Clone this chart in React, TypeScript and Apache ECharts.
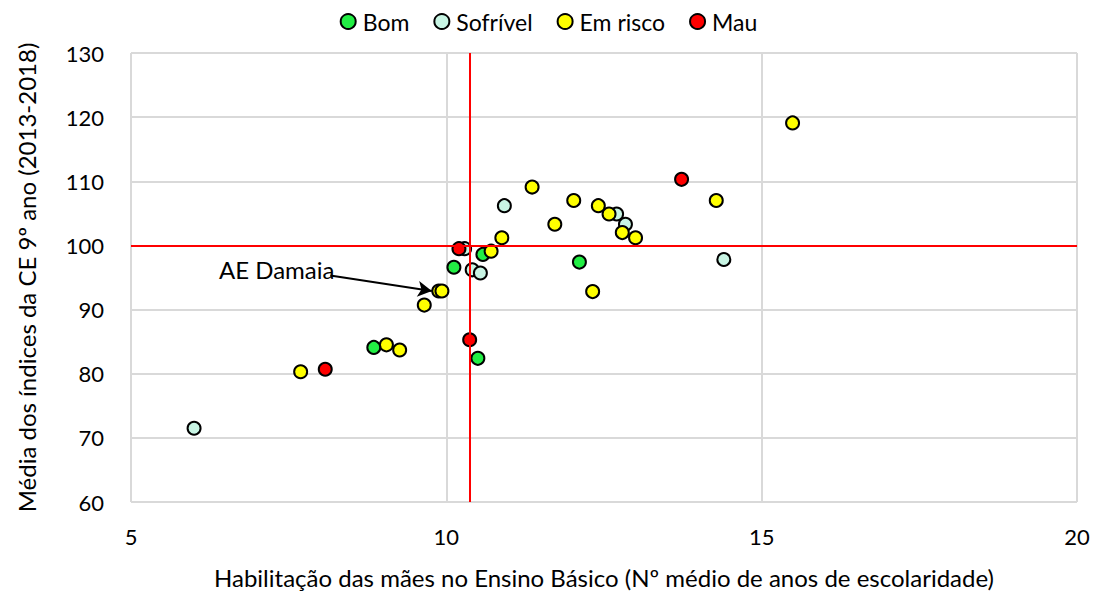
import React, { useEffect, useRef } from "react";
import * as echarts from "echarts";

const seriesNames = ["Bom", "Sofrível", "Em risco", "Mau"];
const seriesColors = ["#22EE44", "#C8F5E4", "#FFFF00", "#FF0000"];

const bom: number[][] = [
  [8.85, 84.1], [10.12, 96.6], [10.58, 98.6], [12.11, 97.4], [10.5, 82.4],
];
const sofrivel: number[][] = [
  [6.0, 71.5], [10.29, 99.5], [10.92, 106.2], [10.41, 96.2], [10.54, 95.7],
  [12.7, 104.9], [12.84, 103.3], [14.4, 97.8],
];
const emRisco: number[][] = [
  [7.69, 80.3], [9.05, 84.5], [9.26, 83.7], [9.65, 90.7], [9.88, 92.9], [9.93, 92.9],
  [10.71, 99.1], [10.88, 101.2], [11.36, 109.1], [11.72, 103.3], [12.02, 107.0],
  [12.41, 106.2], [12.58, 104.9], [12.79, 102.0], [13.0, 101.2], [12.32, 92.8],
  [14.28, 107.0], [15.49, 119.1],
];
const mau: number[][] = [
  [8.08, 80.7], [10.2, 99.5], [10.37, 85.3], [13.73, 110.3],
];

const refX = 10.37;
const refY = 100;
const annotationText = "AE Damaia";
const annotationLabelPos = [7.31, 96.2];
const arrowStart = [8.16, 95.3];
const arrowEnd = [9.77, 92.9];

const xAxisName = "Habilitação das mães no Ensino Básico (Nº médio de anos de escolaridade)";
const yAxisName = "Média dos índices da CE 9º ano (2013-2018)";

const FONT = "Lato";

export default function App() {
  const ref = useRef<HTMLDivElement>(null);
  useEffect(() => {
    if (!ref.current) return;
    const chart = echarts.init(ref.current, null, { renderer: "svg" });
    const datasets = [bom, sofrivel, emRisco, mau];
    const scatterSeries = datasets.map((d, i) => ({
      name: seriesNames[i],
      type: "scatter",
      data: d,
      symbol: "circle",
      symbolSize: 13,
      z: 3,
      itemStyle: {
        color: seriesColors[i],
        borderColor: "#000",
        borderWidth: 2,
        opacity: 1,
      },
    }));
    chart.setOption({
      animation: false,
      textStyle: { fontFamily: FONT },
      legend: {
        data: seriesNames,
        top: 5,
        left: "center",
        itemWidth: 15,
        itemHeight: 15,
        itemGap: 24,
        icon: "circle",
        textStyle: { fontFamily: FONT, fontSize: 23, color: "#000", padding: [0, 0, 0, 2] },
      },
      grid: { left: 131, right: 20, top: 53, bottom: 91 },
      xAxis: {
        type: "value",
        min: 5,
        max: 20,
        interval: 5,
        name: xAxisName,
        nameLocation: "middle",
        nameGap: 63,
        nameTextStyle: { fontFamily: FONT, fontSize: 24, color: "#000" },
        axisLine: { show: false },
        axisTick: { show: false },
        axisLabel: { fontFamily: FONT, fontSize: 22, color: "#000", margin: 23 },
        splitLine: { show: true, lineStyle: { color: "#D9D9D9", width: 2 } },
      },
      yAxis: {
        type: "value",
        min: 60,
        max: 130,
        interval: 10,
        name: yAxisName,
        nameLocation: "middle",
        nameGap: 93,
        nameTextStyle: { fontFamily: FONT, fontSize: 24, color: "#000" },
        axisLine: { show: false },
        axisTick: { show: false },
        axisLabel: { fontFamily: FONT, fontSize: 22, color: "#000", margin: 27 },
        splitLine: { show: true, lineStyle: { color: "#D9D9D9", width: 2 } },
      },
      series: [
        {
          name: "refs",
          type: "scatter",
          data: [],
          z: 2,
          silent: true,
          markLine: {
            silent: true,
            symbol: ["none", "none"],
            label: { show: false },
            lineStyle: { color: "#FF0000", width: 2, type: "solid" },
            data: [{ xAxis: refX }, { yAxis: refY }],
          },
        },
        ...scatterSeries,
        {
          name: "annotation",
          type: "scatter",
          data: [],
          z: 4,
          silent: true,
          markLine: {
            silent: true,
            symbol: ["none", "arrow"],
            symbolSize: [12, 14],
            label: { show: false },
            lineStyle: { color: "#000", width: 2, type: "solid" },
            data: [[{ coord: arrowStart }, { coord: arrowEnd }]],
          },
          markPoint: {
            silent: true,
            symbol: "circle",
            symbolSize: 0,
            label: {
              show: true,
              position: "inside",
              formatter: annotationText,
              fontFamily: FONT,
              fontSize: 24,
              color: "#000",
            },
            data: [{ coord: annotationLabelPos }],
          },
        },
      ],
    });
    return () => chart.dispose();
  }, []);
  return <div ref={ref} style={{ width: 1097, height: 594, position: "absolute", left: 0, top: 0, background: "#fff" }} />;
}
